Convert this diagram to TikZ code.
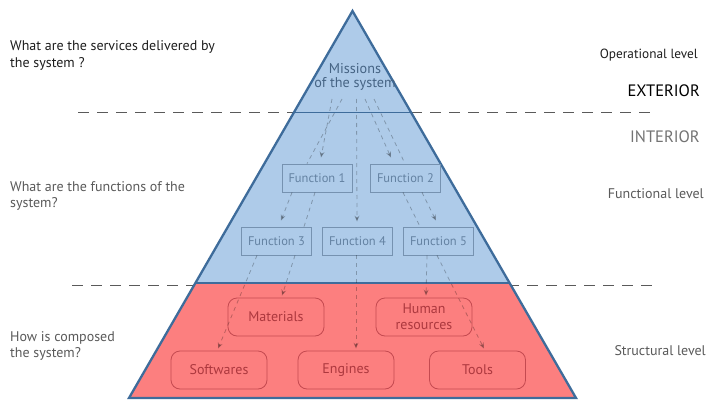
\documentclass[tikz,border=0pt]{standalone}
\usepackage{fontspec}
\setmainfont{PT Sans}
\usetikzlibrary{arrows.meta,calc}
\definecolor{bluefill}{RGB}{174,203,233}
\definecolor{redfill}{RGB}{252,127,127}
\definecolor{edgeblue}{RGB}{62,108,155}
\definecolor{fboxc}{RGB}{118,146,176}
\definecolor{ftext}{RGB}{100,130,162}
\definecolor{rboxc}{RGB}{196,74,80}
\definecolor{rtext}{RGB}{172,56,62}
\definecolor{mtext}{RGB}{70,100,132}
\definecolor{darktext}{RGB}{30,30,30}
\definecolor{graytext}{RGB}{90,90,90}
\definecolor{sepgray}{RGB}{90,90,90}
\tikzset{
  fbox/.style={draw=fboxc, line width=0.8pt, minimum width=70pt, minimum height=28pt, inner sep=0pt, text=ftext, font=\fontsize{12.5}{14}\selectfont},
  rbox/.style={draw=rboxc, line width=0.8pt, rounded corners=9pt, minimum width=96pt, minimum height=38pt, inner sep=0pt, text=rtext, align=center, font=\fontsize{14}{16}\selectfont},
  link/.style={draw=black, opacity=0.26, line width=0.8pt, dash pattern=on 4pt off 4pt},
  linkarrow/.style={link, -{Stealth[length=6pt,width=5pt]}},
  sepline/.style={draw=sepgray, line width=0.9pt, dash pattern=on 11pt off 8pt},
  lefttxt/.style={anchor=base west, inner sep=0pt, font=\fontsize{14}{16}\selectfont},
  righttxt/.style={anchor=base east, inner sep=0pt, font=\fontsize{14}{16}\selectfont},
}
\begin{document}
\begin{tikzpicture}[x=1pt,y=-1pt]
\useasboundingbox (0,0) rectangle (708,401);
\fill[white] (0,0) rectangle (708,401);
% separators
\draw[sepline] (78,112) -- (294,112);
\draw[sepline] (411,112) -- (657,112);
\draw[sepline] (72,285) -- (197,285);
\draw[sepline] (508,285) -- (652,285);
% pyramid
\coordinate (apex) at (352.5,11);
\coordinate (ml) at (195.5,283);
\coordinate (mr) at (509.5,283);
\coordinate (bl) at (129,398);
\coordinate (br) at (576,398);
\coordinate (tl) at (294,112);
\coordinate (tr) at (411,112);
\fill[bluefill] (apex) -- (ml) -- (mr) -- cycle;
\fill[redfill] (ml) -- (bl) -- (br) -- (mr) -- cycle;
\draw[edgeblue, line width=0.9pt] (tl) -- (tr);
\draw[edgeblue, line width=2.3pt, line join=miter] (apex) -- (bl) -- (br) -- cycle;
\draw[edgeblue, line width=2.6pt] (ml) -- (mr);
% missions
\node[inner sep=0pt, text=mtext, align=center, font=\fontsize{14.2}{14.5}\selectfont] (mis) at (355,77) {Missions\\of the system};
% function boxes
\node[fbox] (f1) at (317,178) {Function 1};
\node[fbox] (f2) at (405.5,178) {Function 2};
\node[fbox] (f3) at (276.5,241) {Function 3};
\node[fbox] (f4) at (357.5,241) {Function 4};
\node[fbox] (f5) at (438.5,241) {Function 5};
% resource boxes
\node[rbox] (mat) at (276,317) {Materials};
\node[rbox, font=\fontsize{14}{16}\selectfont] (hum) at (424,317) {Human\\resources};
\node[rbox] (sw) at (219,370) {Softwares};
\node[rbox] (eng) at (346,370) {Engines};
\node[rbox] (tool) at (477.5,370) {Tools};
% links missions -> functions
\coordinate (m1) at (332,99);
\coordinate (m2) at (342,99);
\coordinate (m3) at (356.5,99);
\coordinate (m4) at (365,99);
\coordinate (m5) at (374,99);
\draw[linkarrow] (m1) -- ($(f1.north)+(4,-6)$);
\draw[link] (m2) -- ($(f1.north)+(-10,0)$);
\draw[linkarrow] (m3) -- ($(f4.north)+(-0.5,-5)$);
\draw[linkarrow] (m4) -- ($(f2.north)+(-14.5,-6)$);
\draw[link] (m5) -- ($(f2.north)+(-0.5,0)$);
% functions -> functions
\draw[linkarrow] ($(f1.south)+(-25,0)$) -- ($(f3.north)+(4.5,-6)$);
\draw[link] ($(f1.south)+(-2,0)$) -- ($(f3.north)+(27.5,0)$);
\draw[link] ($(f2.south)+(-2.5,0)$) -- ($(f5.north)+(-18.5,0)$);
\draw[linkarrow] ($(f2.south)+(16.5,0)$) -- ($(f5.north)+(-2.5,-6)$);
% functions -> resources
\draw[linkarrow] ($(f3.south)+(-19.5,0)$) -- ($(sw.north)+(-1,-2)$);
\draw[linkarrow] ($(f3.south)+(18.5,0)$) -- ($(mat.north)+(6,-2)$);
\draw[linkarrow] ($(f4.south)+(-1.5,0)$) -- ($(eng.north)+(10,-2)$);
\draw[linkarrow] ($(f5.south)+(-11.5,0)$) -- ($(hum.north)+(2,-2)$);
\draw[linkarrow] ($(f5.south)+(-1.5,0)$) -- ($(tool.north)+(6.5,-2)$);
% left texts
\node[lefttxt, text=darktext] (q1a) at (10,51) {What are the services delivered by};
\node[lefttxt, text=darktext] (q1b) at (10,68) {the system ?};
\node[lefttxt, text=graytext] (q2a) at (10,191) {What are the functions of the};
\node[lefttxt, text=graytext] (q2b) at (10,207) {system?};
\node[lefttxt, text=graytext] (q3a) at (10,341) {How is composed};
\node[lefttxt, text=graytext] (q3b) at (10,357) {the system?};
% right texts
\node[righttxt, text=darktext, font=\fontsize{13.3}{15}\selectfont] (ops) at (698,59) {Operational level};
\node[righttxt, text=black, font=\fontsize{16.5}{18}\selectfont] (ext) at (700,96) {EXTERIOR};
\node[righttxt, text=graytext!85, font=\fontsize{16.5}{18}\selectfont] (int) at (700,142) {INTERIOR};
\node[righttxt, text=graytext] (fun) at (704,198) {Functional level};
\node[righttxt, text=graytext] (str) at (706,355) {Structural level};
\end{tikzpicture}
\end{document}
